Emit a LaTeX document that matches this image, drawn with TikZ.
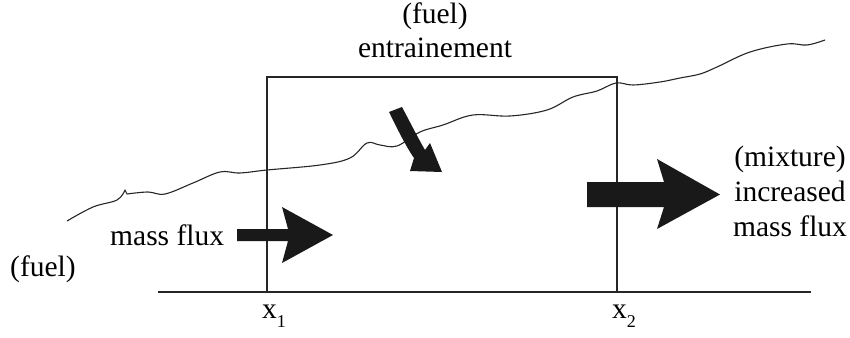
\documentclass[tikz,border=0pt]{standalone}
\usepackage{fontspec}
\setmainfont{Liberation Serif}
\begin{document}
\begin{tikzpicture}[x=1pt,y=-1pt,
  lbl/.style={inner sep=0pt, font=\fontsize{29.5}{34}\selectfont},
  frame/.style={draw=black!85, line width=2pt},
  wave/.style={draw=black!85, line width=1.1pt, line join=round},
  bigarrow/.style={fill=black!90, draw=none}]
\useasboundingbox (0,0) rectangle (850,337);
% ground line
\coordinate (g1) at (158,292);
\coordinate (g2) at (811,292);
\draw[frame] (g1) -- (g2);
% control volume box
\coordinate (bl) at (267,292);
\coordinate (tl) at (267,77);
\coordinate (tr) at (617,77);
\coordinate (br) at (617,292);
\draw[frame] (bl) -- (tl) -- (tr) -- (br);
% wavy interface
\draw[wave] plot[smooth, tension=0.6] coordinates {(67,221) (93,207) (117,200) (125,190)}
  -- plot[smooth, tension=0.6] coordinates {(127,194) (148,192) (165,194) (193,183) (220,172) (240,173) (267,170) (320,165) (350,158) (367,143) (380,145) (397,146) (420,132) (443,125) (473,115) (510,116) (547,110) (573,97) (597,91) (616,83) (633,85) (660,82) (680,78) (700,74) (717,67) (750,52) (787,44) (807,45) (825,40)};
% mass flux arrow
\fill[bigarrow] (237,229) -- (288,229) -- (282,207) -- (333,235) -- (282,263) -- (288,241) -- (237,241) -- cycle;
% increased mass flux arrow
\fill[bigarrow] (587,182) -- (664,182) -- (657,159) -- (720,194.5) -- (657,229) -- (664,207) -- (587,207) -- cycle;
% entrainment arrow
\fill[bigarrow] (389,112) -- (402,107) .. controls (411,124) and (418,138) .. (425,150)
  -- (430,143) -- (442,172) -- (410,171) -- (414,158)
  .. controls (405,145) and (397,128) .. (389,112) -- cycle;
% labels
\node[lbl, anchor=base] (fueltop) at (435,24) {(fuel)};
\node[lbl, anchor=base] (entr) at (435,57) {entrainement};
\node[lbl, anchor=base west] (mflux) at (110,245) {mass flux};
\node[lbl, anchor=base west] (fuelleft) at (10,276) {(fuel)};
\node[lbl, anchor=base] (mix) at (790,166) {(mixture)};
\node[lbl, anchor=base] (incr) at (790,201) {increased};
\node[lbl, anchor=base] (mflux2) at (790,236) {mass flux};
\node[lbl, anchor=base west] (x1) at (262,318) {x\raisebox{-9pt}{\fontsize{18}{18}\selectfont 1}};
\node[lbl, anchor=base west] (x2) at (612,318) {x\raisebox{-9pt}{\fontsize{18}{18}\selectfont 2}};
\end{tikzpicture}
\end{document}
